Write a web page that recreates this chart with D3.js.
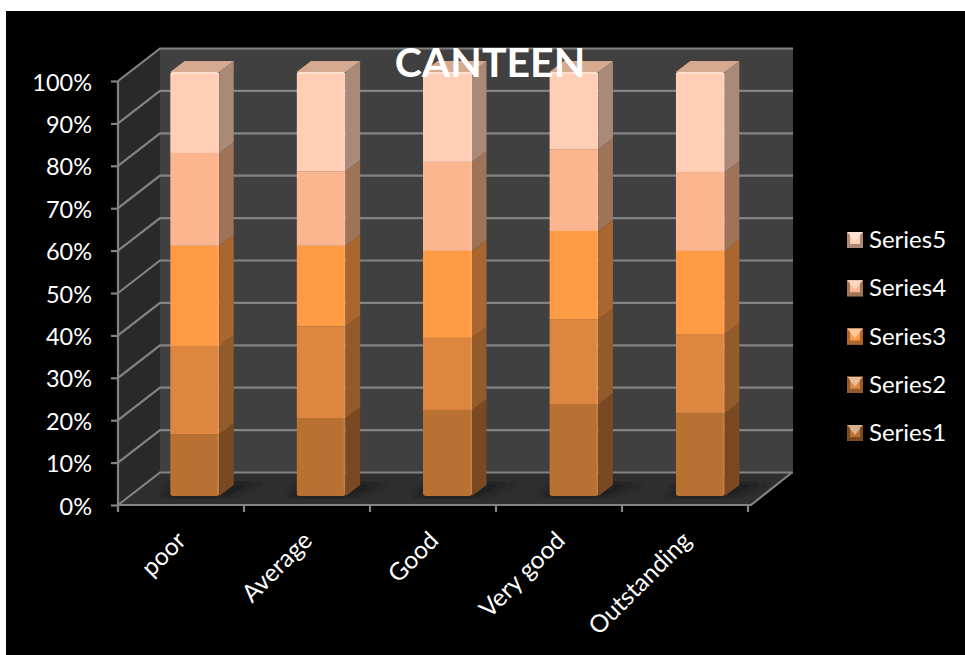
<!DOCTYPE html>
<html><head><meta charset="utf-8">
<script src="https://cdnjs.cloudflare.com/ajax/libs/d3/7.8.5/d3.min.js"></script>
<style>html,body{margin:0;padding:0;background:#fff}svg{display:block}text{font-family:Lato,"Open Sans",sans-serif;fill:#fff}</style>
</head><body><svg id="c" width="965" height="655"></svg>
<script>
const title = "CANTEEN";
const categories = ["poor","Average","Good","Very good","Outstanding"];
const seriesNames = ["Series1","Series2","Series3","Series4","Series5"];
const series1 = [14.6,18.4,20.3,21.7,19.6];
const series2 = [20.8,21.6,17.0,20.0,18.6];
const series3 = [23.6,19.0,20.5,20.8,19.6];
const series4 = [21.9,17.6,21.0,19.3,18.6];
const series5 = [19.1,23.4,21.2,18.2,23.6];
const faceColors = ["#b97132","#dd8640","#ff9a44","#fbb58f","#ffceb5"];
const sideColors = ["#7a4a22","#935a2b","#a9662f","#9f7359","#a98a78"];
const tickValues = [0,10,20,30,40,50,60,70,80,90,100];

const svg = d3.select("#c");
const defs = svg.append("defs");
defs.append("filter").attr("id","soft").append("feGaussianBlur").attr("stdDeviation",0.5);
defs.append("filter").attr("id","shadow").append("feGaussianBlur").attr("stdDeviation",3);
svg.append("rect").attr("x",6).attr("y",11).attr("width",959).attr("height",644).attr("fill","#000");

// scales
const yAxisScale = d3.scaleLinear().domain([0,100]).range([505,81]);
const x = d3.scaleBand().domain(categories).range([118,750]).paddingInner(0.612).paddingOuter(0.306);
const depth = {dx:42, dy:-32.5};
const barDepth = {dx:14.5, dy:-11};
const barShift = 13.5, barLift = -9;
const wallRight = 793;
const y = v => yAxisScale(v);
const X0 = x.range()[0], X1 = 751;
const pts = a => a.map(p=>p.join(",")).join(" ");
const gridColor = "#838383";

// walls and floor
svg.append("polygon").attr("points",pts([[X0+depth.dx,y(0)+depth.dy],[wallRight,y(0)+depth.dy],[wallRight,y(100)+depth.dy],[X0+depth.dx,y(100)+depth.dy]])).attr("fill","#404040");
svg.append("polygon").attr("points",pts([[X0,y(0)],[X0+depth.dx,y(0)+depth.dy],[X0+depth.dx,y(100)+depth.dy],[X0,y(100)]])).attr("fill","#292929");
svg.append("polygon").attr("points",pts([[X0,y(0)],[X1,y(0)],[wallRight,y(0)+depth.dy],[X0+depth.dx,y(0)+depth.dy]])).attr("fill","#2e2e2e");

// gridlines
const grid = svg.append("g").attr("fill","none").attr("stroke",gridColor).attr("stroke-width",2.2).attr("filter","url(#soft)");
tickValues.forEach(t=>{
  grid.append("polyline").attr("points",pts([[X0,y(t)],[X0+depth.dx,y(t)+depth.dy],[wallRight,y(t)+depth.dy]]));
});
grid.append("polyline").attr("points",pts([[X0,y(0)],[X1,y(0)],[wallRight-1,y(0)+depth.dy]]));

// axes
const yAxis = d3.axisLeft(yAxisScale).tickValues(tickValues).tickFormat(d=>d+"%").tickSize(7).tickPadding(19);
const gy = svg.append("g").attr("transform",`translate(${X0},0)`).call(yAxis);
const xAxisTicks = d3.range(0,categories.length+1).map(i=>X0+i*126);
const gx = svg.append("g");
gx.append("path").attr("d",`M${X0},${y(0)}V${y(100)}`).attr("stroke",gridColor).attr("stroke-width",2.2);
gx.selectAll("line").data(xAxisTicks).join("line").attr("x1",d=>d).attr("x2",d=>d).attr("y1",y(0)).attr("y2",y(0)+7).attr("stroke",gridColor).attr("stroke-width",2.2);
gy.select(".domain").remove();
gy.selectAll("line").attr("stroke",gridColor).attr("stroke-width",2.2);
gy.selectAll("text").attr("font-size",23.5).attr("dy","0.39em").style("fill","#fff");

// stack
const rows = categories.map((c,i)=>({cat:c,Series1:series1[i],Series2:series2[i],Series3:series3[i],Series4:series4[i],Series5:series5[i]}));
const stacked = d3.stack().keys(seriesNames).offset(d3.stackOffsetExpand)(rows);
const yb = v => yAxisScale(v*100)+barLift;

const bars = svg.append("g");
categories.forEach((c,ci)=>{
  const L = x(c)+barShift, R = L+x.bandwidth();
  const g = bars.append("g");
  const d = barDepth;
  g.append("polygon").attr("points",pts([[L-8,yb(0)+1],[R+4,yb(0)+1],[R+d.dx+28,yb(0)+d.dy-2],[L+4,yb(0)+d.dy-2]])).attr("fill","#1c1c1c").attr("filter","url(#shadow)");
  const body = g.append("g").attr("filter","url(#soft)");
  stacked.forEach((s,si)=>{
    const [a,b] = s[ci];
    body.append("polygon").attr("points",pts([[R,yb(a)],[R+d.dx,yb(a)+d.dy],[R+d.dx,yb(b)+d.dy],[R,yb(b)]])).attr("fill",sideColors[si]);
  });
  body.append("polygon").attr("points",pts([[L,yb(1)],[L+d.dx,yb(1)+d.dy],[R+d.dx,yb(1)+d.dy],[R,yb(1)]])).attr("fill","#d6aa90");
  const clipId = "bar"+ci;
  defs.append("clipPath").attr("id",clipId).append("rect").attr("x",L).attr("y",yb(1)).attr("width",x.bandwidth()).attr("height",yb(0)-yb(1)).attr("rx",3);
  const front = body.append("g").attr("clip-path",`url(#${clipId})`);
  stacked.forEach((s,si)=>{
    const [a,b] = s[ci];
    front.append("rect").attr("x",L).attr("y",yb(b)).attr("width",x.bandwidth()).attr("height",yb(a)-yb(b)).attr("fill",faceColors[si]);
    front.append("rect").attr("x",R-2).attr("y",yb(b)).attr("width",2).attr("height",yb(a)-yb(b)).attr("fill","#fff").attr("opacity",0.1);
  });
  front.append("rect").attr("x",L).attr("y",yb(1)).attr("width",x.bandwidth()).attr("height",2).attr("fill","#ffe0cf");
});

// category labels
svg.append("g").selectAll("text").data(categories).join("text")
  .attr("transform",d=>`translate(${x(d)+x.bandwidth()/2},${y(0)+31}) rotate(-45)`)
  .attr("text-anchor","end").attr("font-size",24.5).attr("dy","0.35em").text(d=>d);

// title
svg.append("text").attr("x",490).attr("y",77).attr("text-anchor","middle").attr("font-size",41).attr("font-weight",700).text(title);

// legend
const legendY = d3.scalePoint().domain(seriesNames.slice().reverse()).range([240,433]);
const mx = 847, ms = 16;
const legend = svg.append("g").selectAll("g").data(seriesNames).join("g").attr("transform",d=>`translate(0,${legendY(d)})`);
legend.each(function(name){
  const i = seriesNames.indexOf(name), g = d3.select(this);
  const hw = ms/2;
  g.append("rect").attr("x",mx).attr("y",-hw).attr("width",ms).attr("height",ms).attr("fill",faceColors[i]);
  const cx = mx+hw;
  g.append("polygon").attr("points",pts([[mx,-hw],[mx+ms,-hw],[cx,2]])).attr("fill",d3.interpolateRgb(faceColors[i],"#fff")(0.45));
  g.append("polygon").attr("points",pts([[mx,hw],[mx+ms,hw],[mx+ms-3,hw-4],[mx+3,hw-4]])).attr("fill",sideColors[i]);
  g.append("polygon").attr("points",pts([[mx,-hw],[mx+3,-hw+3],[mx+3,hw-3],[mx,hw]])).attr("fill",sideColors[i]);
  g.append("polygon").attr("points",pts([[mx+ms,-hw],[mx+ms-3,-hw+3],[mx+ms-3,hw-3],[mx+ms,hw]])).attr("fill",sideColors[i]);
  g.append("text").attr("x",869).attr("dy","0.34em").attr("font-size",24).text(name);
});
</script></body></html>
